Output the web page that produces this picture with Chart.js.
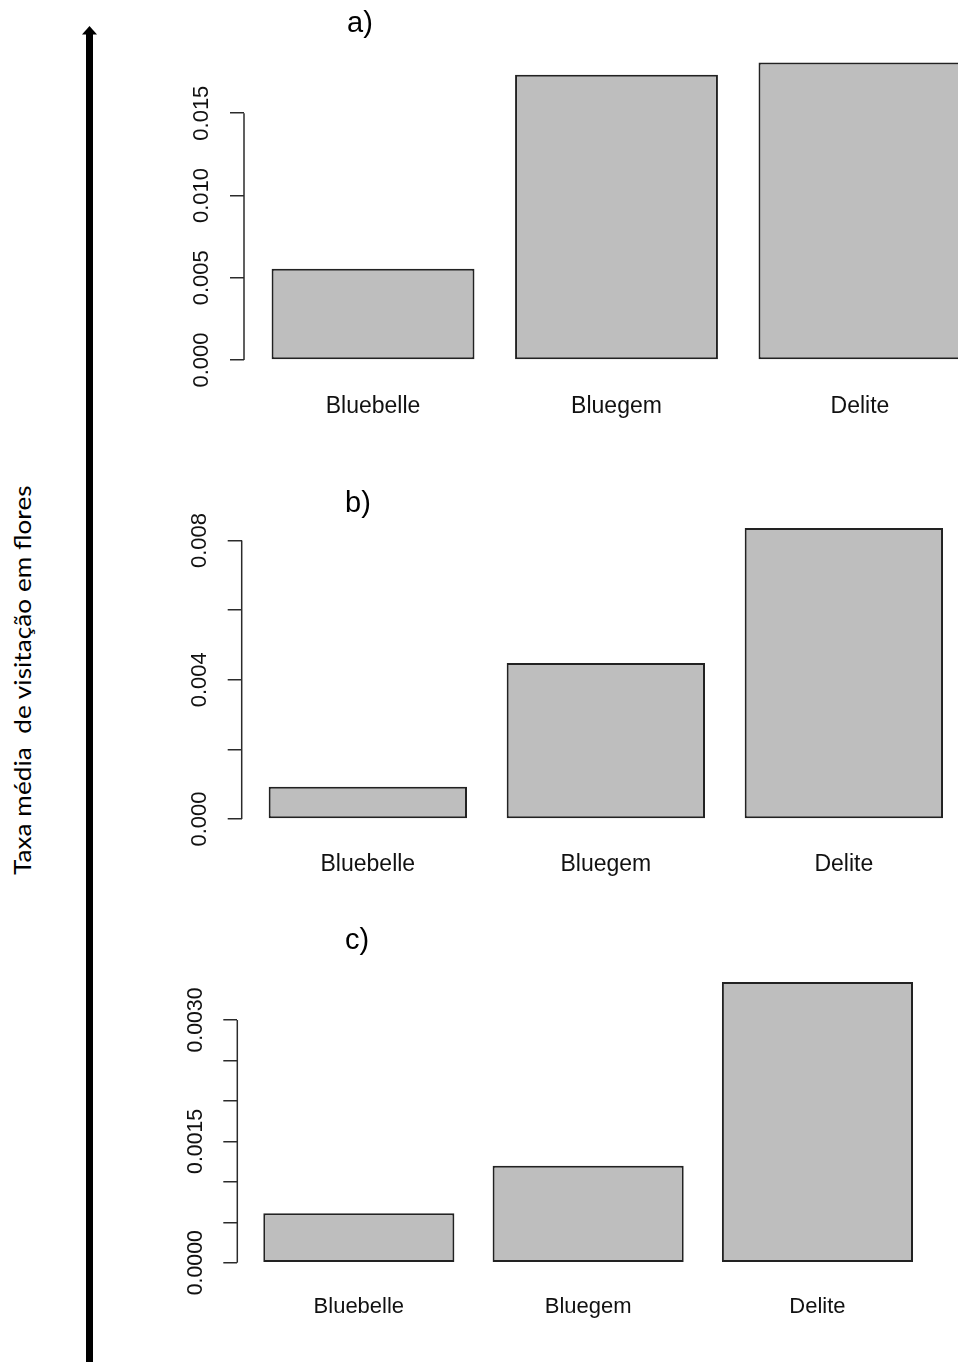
<!DOCTYPE html>
<html>
<head>
<meta charset="utf-8">
<script src="https://cdn.jsdelivr.net/npm/chart.js@4"></script>
<style>
  html, body { margin: 0; padding: 0; background: #fff; overflow: hidden; }
  #page { position: relative; width: 958px; height: 1362px; overflow: hidden; }
  #page canvas { position: absolute; left: 0; }
  .panel-title {
    position: absolute; font-family: "Liberation Sans", Arial, sans-serif;
    font-size: 29px; line-height: 29px; color: #000; white-space: pre;
  }
  #ytitle {
    position: absolute; font-family: Lato, "Open Sans", sans-serif;
    font-size: 23px; line-height: 23px; color: #000; white-space: pre;
    transform-origin: 0 0;
  }
</style>
</head>
<body>
<div id="page">
  <svg width="120" height="1362" style="position:absolute;left:0;top:0">
    <rect x="86" y="33" width="7" height="1329" fill="#000"/>
    <polygon points="82,34.5 97,34.5 89.5,26" fill="#000"/>
  </svg>
  <div id="ytitle"></div>
  <canvas id="chartA" width="1000" height="440" style="top:0px"></canvas>
  <canvas id="chartB" width="1000" height="460" style="top:440px"></canvas>
  <canvas id="chartC" width="1000" height="462" style="top:900px"></canvas>
</div>
<script>
const categories = ["Bluebelle", "Bluegem", "Delite"];

const valuesA = [0.00554, 0.01734, 0.01808];
const valuesB = [0.00093, 0.00448, 0.00836];
const valuesC = [0.00061, 0.00120, 0.00347];

const ticksA = [0, 0.005, 0.010, 0.015];
const tickLabelsA = ["0.000", "0.005", "0.010", "0.015"];
const ticksB = [0, 0.002, 0.004, 0.006, 0.008];
const tickLabelsB = ["0.000", "", "0.004", "", "0.008"];
const ticksC = [0, 0.0005, 0.0010, 0.0015, 0.0020, 0.0025, 0.0030];
const tickLabelsC = ["0.0000", "", "", "0.0015", "", "", "0.0030"];

const panelTitles = ["a)", "b)", "c)"];
const yTitle = "Taxa média  de visitação em flores";

// R barplot style: bars of width 1 with space 0.2, xlim padded 4%
const barPos = categories.map((c, i) => 0.7 + 1.2 * i);
const xMin = 0.2 - 0.04 * 3.4;
const xMax = 3.6 + 0.04 * 3.4;

// draws the R style axis line from 0 to the last tick
const rAxisLine = {
    id: "rAxisLine",
    afterDraw(chart) {
        const y = chart.scales.y;
        const ticks = y.ticks;
        const ctx = chart.ctx;
        ctx.save();
        ctx.strokeStyle = "#2b2b2b";
        ctx.lineWidth = 1.5;
        ctx.beginPath();
        ctx.moveTo(chart.chartArea.left, y.getPixelForValue(ticks[0].value));
        ctx.lineTo(chart.chartArea.left, y.getPixelForValue(ticks[ticks.length - 1].value));
        ctx.stroke();
        ctx.restore();
    }
};

function makePanel(id, values, yTicks, yLabels, yMax, lay) {
    const ctx = document.getElementById(id).getContext("2d");
    return new Chart(ctx, {
        type: "bar",
        data: {
            datasets: [{
                data: values.map((v, i) => ({ x: barPos[i], y: v })),
                backgroundColor: "#bebebe",
                borderColor: "#222",
                borderWidth: 2,
                borderSkipped: false,
                categoryPercentage: 1,
                barPercentage: 1 / 1.2
            }]
        },
        plugins: [rAxisLine],
        options: {
            responsive: false,
            animation: false,
            layout: { padding: { left: 0, right: lay.padRight, top: lay.padTop, bottom: lay.padBottom } },
            plugins: { legend: { display: false }, tooltip: { enabled: false } },
            scales: {
                x: {
                    type: "linear",
                    offset: false,
                    min: xMin,
                    max: xMax,
                    grid: { display: false, offset: false },
                    border: { display: false },
                    afterBuildTicks: s => { s.ticks = barPos.map(v => ({ value: v })); },
                    afterFit: s => { s.height = 70; },
                    ticks: {
                        autoSkip: false,
                        maxRotation: 0,
                        padding: lay.xPad,
                        color: "#111",
                        font: { family: "'Liberation Sans', Arial, sans-serif", size: lay.xFont },
                        callback: (v, i) => categories[i]
                    }
                },
                y: {
                    min: 0,
                    max: yMax,
                    border: { display: false },
                    grid: {
                        drawOnChartArea: false,
                        drawTicks: true,
                        tickLength: 14,
                        color: "#2b2b2b",
                        lineWidth: 1.5
                    },
                    afterBuildTicks: s => { s.ticks = yTicks.map(v => ({ value: v })); },
                    afterFit: s => { s.width = lay.axisX; },
                    ticks: {
                        autoSkip: false,
                        minRotation: 90,
                        maxRotation: 90,
                        crossAlign: "center",
                        padding: lay.yPad,
                        color: "#111",
                        font: { family: "'Liberation Sans', Arial, sans-serif", size: lay.yFont },
                        callback: (v, i) => yLabels[i]
                    }
                }
            }
        }
    });
}

makePanel("chartA", valuesA, ticksA, tickLabelsA, 0.0189,
    { axisX: 244, padRight: 11, padTop: 49, padBottom: 10, xPad: 25, xFont: 23, yPad: 0.5, yFont: 22 });
makePanel("chartB", valuesB, ticksB, tickLabelsB, 0.0087,
    { axisX: 241.7, padRight: 30, padTop: 76.2, padBottom: 11, xPad: 24, xFont: 23, yPad: 0.2, yFont: 22 });
makePanel("chartC", valuesC, ticksC, tickLabelsC, 0.0036,
    { axisX: 237.3, padRight: 61, padTop: 71.5, padBottom: 29.3, xPad: 23, xFont: 22, yPad: -5.7, yFont: 21.3 });

// panel letters, placed where they sit in the figure
const titlePos = [[347, 7.5], [345, 488], [345, 924.5]];
panelTitles.forEach((t, i) => {
    const d = document.createElement("div");
    d.className = "panel-title";
    d.textContent = t;
    d.style.left = titlePos[i][0] + "px";
    d.style.top = titlePos[i][1] + "px";
    document.getElementById("page").appendChild(d);
});

// rotated axis title next to the arrow, stretched to the same length as in the figure
const yt = document.getElementById("ytitle");
yt.textContent = yTitle;
const w = yt.offsetWidth;
const sx = 390 / w;
yt.style.left = "11px";
yt.style.top = (680 + 390 / 2) + "px";
yt.style.transform = "rotate(-90deg) scaleX(" + sx + ")";
</script>
</body>
</html>
